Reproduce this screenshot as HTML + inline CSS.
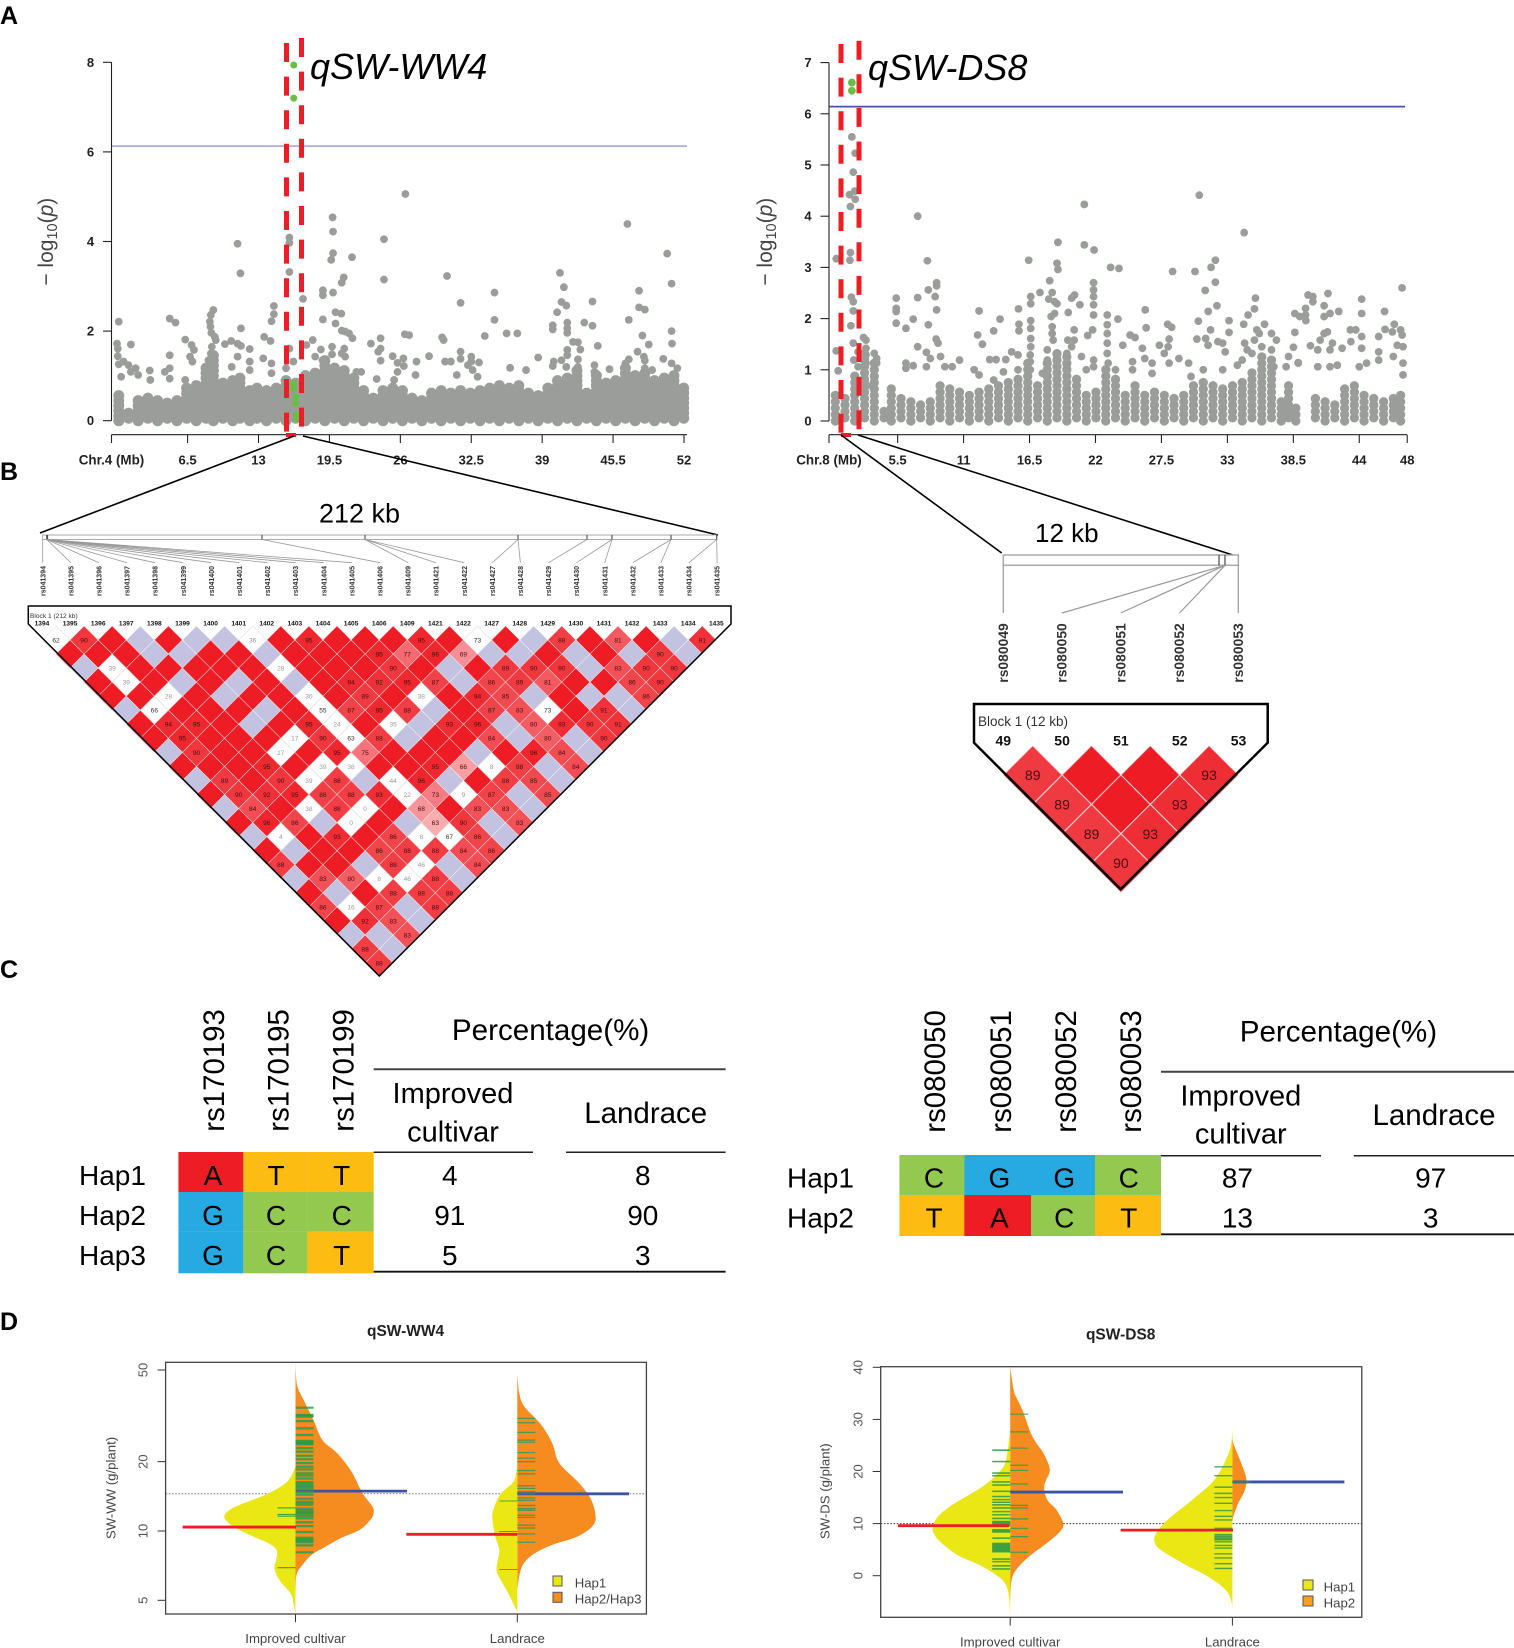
<!DOCTYPE html>
<html lang="en">
<head>
<meta charset="utf-8">
<title>GWAS, LD block, haplotype and bean plots for qSW-WW4 and qSW-DS8</title>
<style>
html,body{margin:0;padding:0;background:#fff;}
svg{display:block;font-family:"Liberation Sans",Arial,sans-serif;}
</style>
</head>
<body>
<svg id="figure" xmlns="http://www.w3.org/2000/svg" width="1514" height="1648" viewBox="0 0 1514 1648">
  <rect width="1514" height="1648" fill="#fff"/>
  <g id="manhattanLayer"></g>

  <g font-weight="bold" font-size="25" fill="#000">
    <text x="0" y="24">A</text>
    <text x="0" y="480">B</text>
    <text x="0" y="978">C</text>
    <text x="0" y="1330">D</text>
  </g>

  <text x="310" y="79" font-size="36" font-style="italic">qSW-WW4</text>
  <text x="868" y="80" font-size="36" font-style="italic">qSW-DS8</text>

  <g font-size="21" fill="#444">
    <text transform="translate(53 241.7) rotate(-90)" text-anchor="middle">− log<tspan font-size="14.5" dy="4">10</tspan><tspan dy="-4">(</tspan><tspan font-style="italic">p</tspan>)</text>
    <text transform="translate(772 241.7) rotate(-90)" text-anchor="middle">− log<tspan font-size="14.5" dy="4">10</tspan><tspan dy="-4">(</tspan><tspan font-style="italic">p</tspan>)</text>
  </g>

  <g stroke="#000" stroke-width="1.6" fill="none">
    <line x1="294" y1="436" x2="40" y2="533"/>
    <line x1="303" y1="436" x2="718" y2="535"/>
    <line x1="841" y1="435" x2="1001.7" y2="553"/>
    <line x1="858" y1="435" x2="1239" y2="557"/>
  </g>

  <text x="319" y="522.3" font-size="27">212 kb</text>
  <text x="1035" y="542" font-size="26">12 kb</text>

  <g id="geneMapLayer"></g>
  <g id="ldLayer"></g>

  <g fill="none" stroke="#000">
    <path d="M28.3 624V606H731V624L379.3 976Z" stroke-width="1.5"/>
  </g>
  <text x="30" y="618" font-size="6.6" fill="#333">Block 1 (212 kb)</text>
  <g fill="none" stroke="#000">
    <path d="M974 742.7V704H1267.7V742.7L1120.7 889.3Z" stroke-width="2.5"/>
  </g>
  <text x="978" y="726" font-size="13.5" fill="#333">Block 1 (12 kb)</text>

  <g>
    <rect x="178.4" y="1152" width="65" height="40.3" fill="#ee1c25"/>
    <rect x="243.3" y="1152" width="64.1" height="40.3" fill="#fdbc11"/>
    <rect x="307.3" y="1152" width="66.4" height="40.3" fill="#fdbc11"/>
    <rect x="178.4" y="1192" width="65" height="39.8" fill="#27aae1"/>
    <rect x="243.3" y="1192" width="64.1" height="39.8" fill="#94c950"/>
    <rect x="307.3" y="1192" width="66.4" height="39.8" fill="#94c950"/>
    <rect x="178.4" y="1231.7" width="65" height="41.6" fill="#27aae1"/>
    <rect x="243.3" y="1231.7" width="64.1" height="41.6" fill="#94c950"/>
    <rect x="307.3" y="1231.7" width="66.4" height="41.6" fill="#fdbc11"/>
    <g font-size="28" text-anchor="middle" fill="#000">
      <text x="213" y="1185">A</text>
      <text x="276" y="1185">T</text>
      <text x="341.7" y="1185">T</text>
      <text x="213" y="1225">G</text>
      <text x="276" y="1225">C</text>
      <text x="341.7" y="1225">C</text>
      <text x="213" y="1265">G</text>
      <text x="276" y="1265">C</text>
      <text x="341.7" y="1265">T</text>
      <text x="449.8" y="1185">4</text>
      <text x="642.8" y="1185">8</text>
      <text x="449.8" y="1225">91</text>
      <text x="642.8" y="1225">90</text>
      <text x="449.8" y="1265">5</text>
      <text x="642.8" y="1265">3</text>
      <text x="550.6" y="1040" font-size="29.6">Percentage(%)</text>
      <text x="453" y="1103" font-size="29">Improved</text>
      <text x="453" y="1141.7" font-size="29">cultivar</text>
      <text x="645.7" y="1123" font-size="29.5">Landrace</text>
    </g>
    <g font-size="28" fill="#000">
      <text x="79" y="1185">Hap1</text>
      <text x="79" y="1225">Hap2</text>
      <text x="79" y="1265">Hap3</text>
    </g>
    <g font-size="29.4" fill="#000">
      <text transform="translate(224 1131.7) rotate(-90)">rs170193</text>
      <text transform="translate(288.4 1131.7) rotate(-90)">rs170195</text>
      <text transform="translate(353.5 1131.7) rotate(-90)">rs170199</text>
    </g>
    <g fill="none">
      <line x1="373.7" y1="1069.3" x2="725.6" y2="1069.3" stroke="#444" stroke-width="2"/>
      <line x1="373.7" y1="1152.3" x2="533" y2="1152.3" stroke="#222" stroke-width="1.5"/>
      <line x1="566" y1="1152.3" x2="725.6" y2="1152.3" stroke="#222" stroke-width="1.5"/>
      <line x1="373.7" y1="1271.7" x2="725.6" y2="1271.7" stroke="#111" stroke-width="1.8"/>
    </g>
  </g>

  <g>
    <rect x="899.4" y="1155" width="65" height="40.3" fill="#94c950"/>
    <rect x="964.3" y="1155" width="130.7" height="40.3" fill="#27aae1"/>
    <rect x="1095" y="1155" width="66" height="40.3" fill="#94c950"/>
    <rect x="899.4" y="1195" width="65" height="41" fill="#fdbc11"/>
    <rect x="964.3" y="1195" width="67" height="41" fill="#ee1c25"/>
    <rect x="1031.2" y="1195" width="64" height="41" fill="#94c950"/>
    <rect x="1095" y="1195" width="66" height="41" fill="#fdbc11"/>
    <g font-size="28" text-anchor="middle" fill="#000">
      <text x="934" y="1187.7">C</text>
      <text x="999.4" y="1187.7">G</text>
      <text x="1064.3" y="1187.7">G</text>
      <text x="1128.8" y="1187.7">C</text>
      <text x="934" y="1227.7">T</text>
      <text x="999.4" y="1227.7">A</text>
      <text x="1064.3" y="1227.7">C</text>
      <text x="1128.8" y="1227.7">T</text>
      <text x="1237.4" y="1187.7">87</text>
      <text x="1430.7" y="1187.7">97</text>
      <text x="1237.4" y="1227.7">13</text>
      <text x="1430.7" y="1227.7">3</text>
      <text x="1338.4" y="1041.7" font-size="29.6">Percentage(%)</text>
      <text x="1240.8" y="1105.7" font-size="29">Improved</text>
      <text x="1240.8" y="1143.3" font-size="29">cultivar</text>
      <text x="1434" y="1125" font-size="29.5">Landrace</text>
    </g>
    <g font-size="28" fill="#000">
      <text x="787" y="1187.7">Hap1</text>
      <text x="787" y="1227.7">Hap2</text>
    </g>
    <g font-size="29.4" fill="#000">
      <text transform="translate(945 1132.7) rotate(-90)">rs080050</text>
      <text transform="translate(1011 1132.7) rotate(-90)">rs080051</text>
      <text transform="translate(1075.9 1132.7) rotate(-90)">rs080052</text>
      <text transform="translate(1140.8 1132.7) rotate(-90)">rs080053</text>
    </g>
    <g fill="none">
      <line x1="1161" y1="1071.7" x2="1514" y2="1071.7" stroke="#444" stroke-width="2"/>
      <line x1="1161" y1="1155.7" x2="1321" y2="1155.7" stroke="#222" stroke-width="1.5"/>
      <line x1="1353.8" y1="1155.7" x2="1514" y2="1155.7" stroke="#222" stroke-width="1.5"/>
      <line x1="1161" y1="1234.3" x2="1514" y2="1234.3" stroke="#111" stroke-width="1.8"/>
    </g>
  </g>

  <g id="beanLayer"></g>

  <g fill="#444" font-size="13.2">
    <text x="405.6" y="1336" font-size="15.5" font-weight="bold" fill="#222" text-anchor="middle">qSW-WW4</text>
    <text x="1120.7" y="1339.5" font-size="15.5" font-weight="bold" fill="#222" text-anchor="middle">qSW-DS8</text>
    <text transform="translate(115.5 1488) rotate(-90)" text-anchor="middle">SW-WW (g/plant)</text>
    <text transform="translate(829.5 1491.3) rotate(-90)" text-anchor="middle">SW-DS (g/plant)</text>
    <text x="295.5" y="1643" text-anchor="middle">Improved cultivar</text>
    <text x="517.3" y="1643" text-anchor="middle">Landrace</text>
    <text x="1010.2" y="1646.5" text-anchor="middle">Improved cultivar</text>
    <text x="1232.4" y="1646.5" text-anchor="middle">Landrace</text>
    <rect x="553" y="1576" width="9" height="10" fill="#ebe715" stroke="#555" stroke-width="1"/>
    <rect x="553" y="1592.3" width="9" height="10" fill="#f68b1f" stroke="#555" stroke-width="1"/>
    <text x="574.7" y="1587.5">Hap1</text>
    <text x="574.7" y="1603.5">Hap2/Hap3</text>
    <rect x="1303" y="1580" width="10" height="10" fill="#ebe715" stroke="#555" stroke-width="1"/>
    <rect x="1303" y="1596" width="10" height="10" fill="#fa9f1b" stroke="#555" stroke-width="1"/>
    <text x="1323.6" y="1591.5">Hap1</text>
    <text x="1323.6" y="1607.5">Hap2</text>
  </g>
</svg>

<script>
/* ---------- Manhattan data: [position Mb, -log10 p] ---------- */
const wwYTicks = [0, 2, 4, 6, 8];
const wwXTicks = [6.5, 13, 19.5, 26, 32.5, 39, 45.5, 52];
const wwThreshold = 6.13;
const wwDenseBand = [[.19,.61],[1.08,.24],[1.97,.46],[2.86,.54],[3.75,.54],[4.63,.46],[5.52,.54],[6.41,.83],[7.3,.83],[8.19,1.2],[8.86,1.5],[9.74,.91],[10.63,.91],[11.3,1.06],[12.19,.68],[12.86,.83],[13.74,.68],[14.63,.83],[15.52,.91],[16.41,.91],[17.3,1.06],[18.19,1.13],[19.08,1.35],[19.97,1.2],[20.86,1.2],[21.74,1.06],[22.63,.68],[23.52,.61],[24.41,.68],[25.3,.83],[26.19,.76],[27.08,.61],[27.97,.54],[28.86,.68],[29.74,.76],[30.63,.68],[31.52,.76],[32.41,.68],[33.3,.76],[34.19,.83],[35.08,.83],[35.97,.83],[36.86,.83],[37.74,.68],[38.63,.61],[39.52,.83],[40.41,.98],[41.3,.98],[42.19,1.2],[43.08,.68],[43.97,1.06],[44.86,.91],[45.74,.98],[46.63,1.2],[47.52,1.06],[48.41,1.13],[49.3,.91],[50.19,.98],[51.08,1.06],[51.97,.83]];
const wwSnps = [[11.08,3.95],[11.34,3.29],[15.83,4.09],[15.83,3.97],[15.83,3.32],[14.41,2.56],[14.41,2.38],[14.19,2.22],[17.08,2.72],[19.79,4.54],[19.83,4.22],[19.83,3.74],[19.66,3.59],[21.57,3.65],[20.81,3.2],[20.63,3.08],[18.9,2.91],[18.9,2.8],[19.83,2.86],[20.06,2.42],[20.59,2.39],[18.9,2.26],[20.06,2.17],[24.5,4.05],[24.5,3.15],[26.46,5.06],[30.28,3.23],[31.52,2.63],[34.63,2.86],[34.63,2.25],[40.63,3.3],[40.99,2.98],[40.77,2.65],[41.21,2.57],[40.37,2.42],[43.61,2.66],[43.61,2.12],[42.86,2.19],[46.81,4.39],[50.46,3.73],[50.86,3.06],[47.88,2.9],[47.88,2.53],[48.41,2.48],[46.94,2.25],[50.86,2],[48.19,1.9],[50.9,1.72],[48.77,1.7],[47.74,1.54],
[.19,2.21],[.03,1.72],[.1,1.61],[.1,1.44],[.19,1.26],[.63,1.32],[1.08,1.24],[1.3,1.7],[1.3,1.09],[1.74,1.17],[1.97,1.02],[.41,.98],[3.03,1.12],[3.08,.91],[4.41,1.09],[4.86,2.28],[5.39,2.19],[4.86,1.46],[4.86,1.17],[4.86,.94],[6.28,1.81],[6.86,1.69],[7.08,1.58],[6.72,1.43],[6.94,1.32],[6.28,.91],[8.86,2.47],[8.63,2.36],[8.54,2.21],[8.59,2.1],[8.68,1.96],[8.99,1.87],[9.08,1.8],[8.72,1.65],[8.63,1.5],[8.41,1.35],[8.86,1.17],[9.92,1.71],[10.5,1.78],[11.08,1.72],[11.39,1.67],[11.39,2.06],[11.08,1.43],[10.54,1.2],[12.19,1.6],[12.19,1.32],[12.19,1.13],[13.52,1.87],[14.1,1.78],[13.43,1.39],[14.19,1.28],[14.19,1.06],[15.52,1.17],[15.83,1.61],[16.19,1.32],[17.39,1.69],[17.97,1.8],[18.19,1.43],[18.72,1.59],[18.86,1.35],[19.74,1.65],[19.74,1.48],[20.86,1.61],[20.63,1.5],[20.94,1.43],[20.63,2.01],[20.94,1.99],[21.3,1.95],[21.61,1.84],[21.97,1.09],[22.41,1.09],[23.3,1.72],[23.97,1.54],[24.19,1.84],[24.19,1.61],[24.19,1.34],[23.83,.93],[25.3,1.44],[25.74,1.29],[26.28,1.39],[26.32,1.22],[25.74,1.09],[25.43,.91],[27.48,1.32],[27.39,1.02],[28.63,1.44],[26.41,1.93],[26.81,1.91],[29.83,1.86],[29.97,1.8],[30.1,1.32],[30.63,1.32],[31.52,1.54],[31.52,1.38],[31.17,1.02],[32.5,1.43],[32.5,1.32],[33.21,1.3],[32.19,1.24],[32.63,1.13],[33.08,.98],[33.74,1.89],[35.74,1.95],[36.72,1.95],[38.63,1.41],[36.06,1.18],[37.52,1.13],[39.97,2.13],[39.97,2.04],[40.06,1.32],[39.97,1.22],[40.77,1.35],[41.21,1.2],[41.3,2.19],[41.3,2.06],[41.3,1.96],[41.83,1.76],[42.28,1.75],[42.5,1.59],[41.3,1.58],[41.3,1.46],[42.28,1.37],[42.28,1.2],[44.1,1.67],[43.79,1.24],[43.79,1.09],[45.17,1.15],[46.63,1.28],[46.94,1.37],[48.32,1.43],[48.41,1.34],[48.41,1.17],[49.08,1.13],[50.1,1.38],[50.86,1.28],[51.39,1.17]];
const wwLeadSnps = [[16.23,7.94],[16.23,7.2],[16.2,.83],[16.2,.72],[16.4,.54],[16.4,.39],[16.5,.13],[16.5,.05]];

const dsYTicks = [0, 1, 2, 3, 4, 5, 6, 7];
const dsXTicks = [5.5, 11, 16.5, 22, 27.5, 33, 38.5, 44, 48];
const dsThreshold = 6.14;
const dsDenseBand = [[.3,.54],[1.11,.54],[1.92,.93],[2.74,1.39],[3.55,1.19],[4.36,.28],[4.97,.73],[5.78,.47],[6.6,.41],[7.41,.41],[8.22,.47],[9.04,.73],[9.85,.73],[10.66,.6],[11.48,.6],[12.29,.6],[13.1,.73],[13.91,.73],[14.73,.87],[15.54,.93],[16.35,1.19],[17.17,.8],[17.98,1.13],[18.79,1.39],[19.61,1.32],[20.42,.87],[21.23,.6],[22.04,.6],[22.86,1.06],[23.67,.87],[24.48,.6],[25.3,.73],[26.11,.54],[26.92,.6],[27.74,.6],[28.55,.47],[29.36,.54],[30.17,.73],[30.99,.87],[31.8,.73],[32.61,.73],[33.43,.73],[34.24,.87],[35.05,1.06],[35.87,1.32],[36.68,1.19],[37.49,.41],[38.1,.73],[38.71,.28],[40.34,.47],[41.15,.41],[41.96,.41],[42.78,.67],[43.59,.8],[44.4,.6],[45.21,.47],[46.03,.41],[46.84,.47],[47.45,.6]];
const dsSnps = [[1.68,5.55],[1.96,5.23],[1.8,4.86],[1.48,4.42],[1.92,4.49],[1.96,4.33],[1.56,4.19],[7.17,4],[1.56,3.29],[.38,3.17],[1.52,3.14],[7.98,3.13],[21.07,4.23],[21.07,3.44],[21.88,3.34],[18.87,3.49],[16.43,3.14],[18.79,3.08],[18.87,2.96],[23.26,3],[23.96,2.98],[28.43,2.92],[30.3,2.92],[30.66,4.41],[31.64,3],[32,3.14],[32,2.71],[31.15,2.55],[32.13,2.25],[31.4,2.14],[34.4,3.68],[30.58,1.95],[33.14,1.96],[33.14,1.73],[35.34,2.4],[35.26,2.19],[34.73,2.07],[34.36,1.89],[36.1,1.89],[47.57,2.6],
[5.38,2.4],[5.38,2.2],[5.38,2.14],[5.38,1.91],[6.19,1.81],[6.8,1.99],[7.17,2.41],[8.06,2.56],[8.63,2.43],[8.75,2.7],[8.75,2.64],[8.75,2.17],[8.06,1.88],[8.71,1.6],[8.87,1.52],[7.17,1.45],[7.9,1.34],[8.22,1.22],[9.08,1.26],[6.19,1.13],[6.19,1.03],[6.8,1.08],[7.9,1.06],[10.66,1.19],[10.05,1.06],[12.29,2.15],[14.04,1.99],[12.17,1.68],[13.51,1.76],[12.57,1.5],[13.18,1.2],[13.71,1.2],[14.52,1.2],[15.01,1.35],[15.58,2.19],[15.62,1.89],[15.62,1.76],[15.54,1.29],[16.6,2.43],[16.6,2.29],[16.6,1.96],[16.6,1.81],[16.6,1.61],[16.6,1.45],[17.37,2.51],[18.18,2.74],[18.39,2.51],[18.1,2.38],[18.59,2.33],[18.79,2.29],[18.59,2.1],[18.3,2.04],[19.73,2.12],[20.01,2.4],[20.26,2.46],[20.7,2.27],[20.22,1.78],[18.39,1.84],[18.39,1.71],[18.47,1.58],[19.69,1.58],[20.22,1.58],[21.35,1.67],[21.76,1.78],[21.84,2.27],[21.84,2.07],[21.84,2.43],[21.84,2.56],[21.84,2.7],[22.98,2.07],[22.98,1.88],[23.87,1.99],[22.98,1.71],[22.98,1.52],[22.98,1.32],[24.28,1.48],[24.89,1.68],[25.3,1.63],[25.91,1.42],[26.15,2.17],[26.23,1.82],[28.02,1.89],[28.35,1.83],[28.14,1.6],[27.33,1.48],[28.06,1.45],[28.96,1.22],[29.77,1.13],[30.46,1.6],[31.19,1.61],[31.6,1.78],[31.39,1.48],[32.21,1.55],[32.61,1.52],[32.82,1.35],[34.44,1.52],[34.65,1.39],[35.46,1.78],[35.26,1.58],[35.66,1.71],[36.68,1.71],[37.09,1.58],[36.68,1.39],[38.63,1.73],[39.52,2.2],[39.52,2.07],[38.63,2.1],[39.04,2.04],[39.55,1.96],[38.51,1.44],[38.1,1.26],[38.91,1.14],[39.93,1.47],[40.54,1.39],[41.07,2.25],[41.39,2.49],[39.73,2.46],[40.13,2.43],[40.13,2.33],[41.56,2.1],[41.07,2.04],[42.29,2.14],[41.07,1.71],[41.35,1.74],[41.76,1.52],[40.74,1.58],[41.56,1.39],[42.57,1.42],[43.26,1.78],[43.71,1.78],[43.3,1.55],[44.2,2.38],[44.2,2.1],[44.2,1.65],[44.2,1.42],[46.11,2.14],[46.92,1.89],[46.15,1.79],[46.76,1.74],[47.57,1.68],[47.45,1.78],[45.62,1.65],[45.62,1.35],[47.17,1.48],[47.65,1.45],[47.65,1.13],
[.38,1.37],[.54,.98],[1.64,2.42],[1.8,2.33],[1.8,2.15],[1.6,1.86],[1.8,1.52],[2.2,1.35],[1.84,1.19],[2.2,1.06],[2.65,1.63],[2.86,1.58],[2.86,1.42],[2.86,1.29],[2.86,1.13],[3.55,1.32],[3.75,1.22],[3.75,1.13],[3.55,1],[3.55,.83],[2.94,.69],
[9.44,1.06],[11.88,1],[12.29,.9],[13.51,.8],[14.32,.96],[15.54,1],[16.56,1.29],[16.56,1.16],[16.56,1],[17.57,.93],[17.98,1.39],[17.98,1.19],[18.79,1.26],[19.61,1.32],[19.61,1.06],[20.01,1.45],[20.83,1.26],[21.23,1],[21.84,1.19],[21.84,1.06],[23.06,1.13],[23.67,1],[25.09,1.16],[25.09,1],[26.11,1.22],[26.72,1.13],[26.72,.93],[27.74,1.32],[28.14,1.13],[29.97,.87],[30.99,1],[32.61,1],[33.83,1.09],[34.24,1.19],[35.05,1.32],[35.87,1.45],[36.88,1.06],[37.9,1.06],[38.91,1.13],[40.54,1.06],[41.56,1.06],[42.17,1.09],[44,1.06],[44.61,1.13],[45.62,1.19],[46.84,1.26],[47.65,.9]];
const dsLeadSnps = [[1.68,6.61],[1.68,6.45]];

/* ---------- LD heatmap data: R solid, B lavender, w white with value ---------- */
const wwLdSnps = ["1394","1395","1396","1397","1398","1399","1400","1401","1402","1403","1404","1405","1406","1409","1421","1422","1427","1428","1429","1430","1431","1432","1433","1434","1435"];
const wwLdRows = [
"62w 90 R B R B B 36w R 95 R R R 95 R 73w R B 88 R 81 R B 91",
"R R R B B R R B R R R 95 77 96 69 B B R B R B 90 B",
"B 39w R R R R R 28w R R R 90 R B R 89 90 90 B 83 90 90",
"R 39w R B R B R B R 94 92 95 87 B 86 89 81 R R 86 90",
"R R 28w R B R R 30w R 89 R 38w R 94 85 B R B B 86",
"B 66w R R R B R 55w 87 95 88 B R 87 83 73w R 91 B",
"R 94 95 R B R 95 24w R 35w B 93 96 B 80 93 90 91",
"R 95 R R R 17w 90 63w 88 B R R 84 B 80 B 90",
"B 90 R R 17w R 95 75 R R R B R 96 84 B",
"R R R 95 R 39w 38w R R 95 66 8w 88 B 84",
"B 89 R 90 39w 88 B 44w 96 B R 88 85 B",
"R 90 92 95 88 88 93 22w 73 9w 87 B 85",
"B 84 R 38w 88 0w R 68 R 83 83 B",
"R 96 86 B 0w R B 63 90 B 83",
"B 4w R 93 R 86 8w 67w 86 B",
"R B R R 86 88 88 84 86",
"88 R R B 88 46w B 84",
"B 83 80 8w 46w 88 B",
"R B R 88 88 88",
"86 16w 87 B 88",
"R 92 83 B",
"B B 83",
"88 B",
"88"];
const dsLdSnps = ["49","50","51","52","53"];
const dsLdRows = ["89 R R 93","89 R 93","89 93","90"];

const wwMapSnps = ["rs041394","rs041395","rs041396","rs041397","rs041398","rs041399","rs041400","rs041401","rs041402","rs041403","rs041404","rs041405","rs041406","rs041409","rs041421","rs041422","rs041427","rs041428","rs041429","rs041430","rs041431","rs041432","rs041433","rs041434","rs041435"];
const dsMapSnps = ["rs080049","rs080050","rs080051","rs080052","rs080053"];

/* ---------- Bean plot data: g/plant and density ---------- */
const wwYLabels = [5, 10, 20, 50];
const wwRefLine = 14.5;
const wwImpHap2Vals = [54,46,41.6,36.4,30.3,24.8,21.7,18.1,14.6,12.75,11.9,11.2,10.1,9.3,8.4,7.87,7.12,6.44,5.19];
const wwImpHap2Dens = [0,.7,2.5,9,18,27,42,56,67,77,78,75,64,45,27,16,7,1,0];
const wwImpHap1Vals = [19,16.6,15.1,13.9,12.75,11.9,11.2,10.3,9.45,8.84,8.27,7.6,6.89,6.12,5.36,4.85,4.39];
const wwImpHap1Dens = [0,7,20,38,60,70,70,60,42,27,19,19,21,16,5,2,0];
const wwLanHap2Vals = [48,39.6,34.7,28.9,24,19.7,16.1,13.9,11.9,10.6,9.45,8.7,7.87,6.89,5.54];
const wwLanHap2Dens = [0,2,7,24,35,42,62,73,78,76,60,35,15,4,0];
const wwLanHap1Vals = [20.3,16.6,14.6,12.75,11.35,9.45,8.27,7.24,6.55,5.36,4.46];
const wwLanHap1Dens = [0,3,16,23,25,22,18,20,20,9,0];
const wwImpHap2Rug = [34.3,31.9,31.6,31.4,30,27.9,26.1,24.6,24.4,24.2,24,23.8,22.9,22.1,21.2,20.5,19.7,19,18.5,17.8,17.4,16.9,16.3,16,15.7,15.5,15.3,14.8,14.4,13.8,13.4,13.2,13,12.5,12.3,12.1,12,11.85,11.6,11.35,10.9,10.5,9.9,9.35,9.25,9.14,9.05,8.93,8.66,8.08];
const wwImpHap1Rug = [12.6,11.8,11.6,10.4,6.93];
const wwLanHap2Rug = [30.8,29.5,26.8,24.8,24.3,21.9,20.7,20,18.3,17.7,15.7,15.3,14.8,14.5,13.9,13.6,12.9,12.5,12.3,11.7,11.45,10.6,10.3,9.7,8.93];
const wwLanHap1Rug = [13.5,9.95,6.8];
const wwMeans = {impHap1:10.4, impHap2:14.9, lanHap1:9.67, lanHap2:14.5};

const dsYLabels = [0, 10, 20, 30, 40];
const dsRefLine = 10;
const dsImpHap2Vals = [40.2,38,35,31.9,26.8,23.6,21,19.7,17.2,14.6,12.7,10.1,8.5,6.3,3.7,1.15,-.77,-4.6];
const dsImpHap2Dens = [0,1.5,4.4,12,22,33,39,39,34,37,46,53,50,37,19,6,1.5,0];
const dsImpHap1Vals = [28,23.6,21,18.4,16.2,13.6,11.4,9.1,6.9,4,1.8,-.45,-2.4,-5.2,-7.8];
const dsImpHap1Dens = [0,2.9,6.5,19,35,58,72,77.5,72,53,28,10,2.9,.7,0];
const dsLanHap2Vals = [27.3,25.4,22.2,18.7,16.2,13.9,11.4,10.1];
const dsLanHap2Dens = [0,1,7.6,13.8,12,5.8,1,0];
const dsLanHap1Vals = [30.2,26,22.9,18.4,14.6,10.7,8.2,6.6,5,2.1,-.1,-2.7,-5.2,-8.1];
const dsLanHap1Dens = [0,.7,5,18,40,65,76,78,72,47,25,7,.7,0];
const dsImpHap2Rug = [31,27.6,24.5,21.2,20.2,17.6,13.5,13,10.9,9.1,7.5,4.5];
const dsImpHap1Rug = [24.1,21.9,19.7,19.2,18,17.4,16.2,15.2,14.6,14.1,13.6,13,12.3,11.7,11,10.4,10.2,10,9.8,9.6,8.8,8.6,8.4,7.2,6.2,6,5.8,5.6,5.4,5.2,5,4.8,4.6,3.2,2.7,1.9,1.3];
const dsLanHap2Rug = [18];
const dsLanHap1Rug = [20.9,19.2,17,15.8,15,13.9,12.5,11.4,10.7,9.1,8.8,7.9,7.6,7.4,7.1,6.9,6.5,5.8,5.3,4.2,3.4,2.3,1.4];
const dsMeans = {impHap1:9.6, impHap2:16.05, lanHap1:8.75, lanHap2:18};

/* ---------- helpers ---------- */
const SVGNS = "http://www.w3.org/2000/svg";
function node(tag, attrs, parent, txt){
  const n = document.createElementNS(SVGNS, tag);
  for (const k in attrs) n.setAttribute(k, attrs[k]);
  if (txt !== undefined) n.textContent = txt;
  parent.appendChild(n);
  return n;
}
const wwX = mb => 187.6 + (mb - 6.5) * 10.91;
const wwY = v => 420.7 - 44.8 * v;
const dsX = mb => 831.7 + mb * 11.99;
const dsY = v => 421 - 51.2 * v;
const GRAY = "#9b9d9b";

/* ---------- Manhattan plots ---------- */
function drawManhattan(root, o){
  const g = node("g", {}, root);
  
  
  o.band.forEach((b, i) => {
    const el = node("line", {x1:o.x(b[0]), x2:o.x(b[0]), y1:o.y(0), y2:o.y(b[1]), stroke:GRAY, "stroke-width":o.bandWidth, "stroke-linecap":"round", "stroke-dasharray":"0.01 "+o.bandPitch, "stroke-dashoffset":(i % 2) * o.bandPitch / 2}, g);
    
    
  });
  o.snps.forEach(p => {
    const el = node("circle", {cx:o.x(p[0]), cy:o.y(p[1]), r:3.9, fill:GRAY}, g);
    
    
  });
  const th = node("line", {x1:o.x0, x2:o.thEnd, y1:o.y(o.threshold), y2:o.y(o.threshold), stroke:o.thColor, "stroke-width":1.7}, g);
  
  
  o.lead.forEach(p => {
    const el = node("circle", {cx:o.x(p[0]), cy:o.y(p[1]), r:o.leadR, fill:"#69bd45"}, g);
    
    
  });
  const ya = node("line", {x1:o.x0, x2:o.x0, y1:o.y(o.yTicks[0]), y2:o.y(o.yTicks[o.yTicks.length-1]), stroke:"#222", "stroke-width":1.1}, g);
  
  
  o.yTicks.forEach(t => {
    const tk = node("line", {x1:o.x0-8.5, x2:o.x0, y1:o.y(t), y2:o.y(t), stroke:"#222", "stroke-width":1.1}, g);
    
    
    const lb = node("text", {x:o.x0-21, y:o.y(t)+4.5, "font-size":13, "font-weight":"bold", "text-anchor":"middle", fill:"#222"}, g, String(t));
    
    
  });
  const xa = node("line", {x1:o.x0, x2:o.xEnd, y1:434.7, y2:434.7, stroke:"#222", "stroke-width":1.1}, g);
  
  
  const first = node("line", {x1:o.x0, x2:o.x0, y1:434.7, y2:443, stroke:"#222", "stroke-width":1.1}, g);
  
  
  const chr = node("text", {x:o.x0, y:464.5, "font-size":13.4, "font-weight":"bold", "text-anchor":"middle", fill:"#222"}, g, o.chr);
  
  
  o.xTicks.forEach(t => {
    const tk = node("line", {x1:o.x(t), x2:o.x(t), y1:434.7, y2:443, stroke:"#222", "stroke-width":1.1}, g);
    
    
    const lb = node("text", {x:o.x(t), y:464.5, "font-size":13, "font-weight":"bold", "text-anchor":"middle", fill:"#222"}, g, String(t));
    
    
  });
  o.dashes.forEach(d => {
    const el = node("line", {x1:d[0], x2:d[0], y1:d[1], y2:d[2], stroke:"#ee1c25", "stroke-width":5, "stroke-dasharray":"19 14.6"}, g);
    
    
  });
  const blob = node("rect", {x:o.blob, y:433, width:10, height:4, fill:"#ee1c25"}, g);
  
  
}
const mLayer = document.getElementById("manhattanLayer");
drawManhattan(mLayer, {name:"manhattan-qsw-ww4", x:wwX, y:wwY, x0:111.5, xEnd:687, thEnd:687, thColor:"#a2a8d9",
  band:wwDenseBand, bandWidth:11, bandPitch:5, snps:wwSnps, lead:wwLeadSnps, leadR:3.5, threshold:wwThreshold,
  yTicks:wwYTicks, xTicks:wwXTicks, chr:"Chr.4 (Mb)", dashes:[[286.5,43,435],[301.5,38,428]], blob:286});
drawManhattan(mLayer, {name:"manhattan-qsw-ds8", x:dsX, y:dsY, x0:829, xEnd:1407, thEnd:1405, thColor:"#4a52a8",
  band:dsDenseBand, bandWidth:9.3, bandPitch:6.4, snps:dsSnps, lead:dsLeadSnps, leadR:3.9, threshold:dsThreshold,
  yTicks:dsYTicks, xTicks:dsXTicks, chr:"Chr.8 (Mb)", dashes:[[841,44,435],[859,40.7,430]], blob:841});

/* ---------- gene maps ---------- */
function drawMap(root, o){
  const g = node("g", {}, root);
  
  
  const bar = node("rect", {x:o.x1, y:o.y1, width:o.x2-o.x1, height:o.y2-o.y1, fill:"#fff", stroke:"#aaa", "stroke-width":o.sw}, g);
  
  
  o.ticks.forEach(t => {
    const el = node("line", {x1:t, x2:t, y1:o.y1, y2:o.y2, stroke:"#555", "stroke-width":o.tw}, g);
    
    
  });
  o.names.forEach((nm, i) => {
    const lx = o.lx0 + o.lstep(i);
    const c = node("line", {x1:o.src[i], y1:o.y2, x2:lx, y2:o.ly, stroke:"#999", "stroke-width":o.cw}, g);
    
    
    const t = node("text", {transform:"translate("+(lx+o.tdx)+" "+o.ty+") rotate(-90)", "font-size":o.fs, "font-weight":"bold", fill:"#333"}, g, nm);
    
    
  });
}
const gLayer = document.getElementById("geneMapLayer");
drawMap(gLayer, {name:"gene-map-ww", x1:42.7, x2:716.7, y1:535, y2:539.5, sw:1, tw:1.2, cw:.8,
  ticks:[46.7,47.5,262,365,518,587,612,671,716.7], names:wwMapSnps,
  src:[42.7,46.7,46.7,46.7,46.7,46.7,46.7,46.7,46.7,46.7,46.7,46.7,262,365,365,365,518,518,587,612,612,671,671,716.7,716.7],
  lx0:42.7, lstep:i=>i*28.1, ly:562.7, tdx:2.6, ty:596, fs:7});
drawMap(gLayer, {name:"gene-map-ds", x1:1003.3, x2:1238.3, y1:555, y2:565.3, sw:1.5, tw:1.3, cw:1.2,
  ticks:[1219,1225], names:dsMapSnps, src:[1003.3,1225,1225,1225,1238.3],
  lx0:1003.3, lstep:i=>i*58.75, ly:613, tdx:4.5, ty:682.7, fs:13.9});

/* ---------- LD heatmaps ---------- */
function ldColor(tok){
  if (tok === "R") return "#ee1c25";
  if (tok === "B") return "#c3c2e0";
  if (tok.endsWith("w")) return "#ffffff";
  const v = parseFloat(tok);
  const f = Math.pow(Math.max(0, (100 - v) / 37), 1.3) * 0.64;
  const mix = (a) => Math.round(a + (255 - a) * f);
  return "rgb(" + mix(238) + "," + mix(28) + "," + mix(37) + ")";
}
function drawLD(root, o){
  const g = node("g", {}, root);
  
  
  o.snps.forEach((s, i) => {
    const t = node("text", {x:o.x0 - o.h + i * 2 * o.h, y:o.headY, "font-size":o.headFs, "font-weight":"bold", "text-anchor":"middle", fill:"#111"}, g, s);
    
    
  });
  o.rows.forEach((row, r) => {
    row.split(" ").forEach((tok, c) => {
      const cx = o.x0 + (c * 2 + r) * o.h, cy = o.y0 + r * o.h, h = o.h;
      const white = tok.endsWith("w");
      const d = node("polygon", {points:[cx,cy-h,cx+h,cy,cx,cy+h,cx-h,cy].join(","), fill:ldColor(tok), stroke:white ? "#ddd" : "#fff", "stroke-opacity":white ? 1 : .6, "stroke-width":o.sw}, g);
      
      
      if (tok !== "R" && tok !== "B"){
        const v = parseFloat(tok);
        const col = white ? (v < 50 ? "#999" : "#333") : "#4a0c10";
        const t = node("text", {x:cx, y:cy + o.fs * .36, "font-size":o.fs, "text-anchor":"middle", fill:col}, g, String(v));
        
        
      }
    });
  });
}
const lLayer = document.getElementById("ldLayer");
drawLD(lLayer, {name:"ld-heatmap-ww", snps:wwLdSnps, rows:wwLdRows, x0:56, y0:640, h:14.05, sw:.6, fs:6.6, headFs:6.6, headY:625.7});
drawLD(lLayer, {name:"ld-heatmap-ds", snps:dsLdSnps, rows:dsLdRows, x0:1032.7, y0:775, h:29.4, sw:1.2, fs:14, headFs:14, headY:745.7});

/* ---------- Bean plots ---------- */
const bwwY = v => 1600.3 - 230.3 * Math.log10(v / 5);
const bdsY = v => 1575.7 - 5.21 * v;
function drawBean(g, cx, side, vals, dens, yFn, color, name){
  const pts = vals.map((v, i) => [cx + side * dens[i], yFn(v)]);
  let d = "M" + pts[0][0] + " " + pts[0][1];
  for (let i = 0; i < pts.length - 1; i++){
    const p0 = pts[Math.max(0, i - 1)], p1 = pts[i], p2 = pts[i + 1], p3 = pts[Math.min(pts.length - 1, i + 2)];
    const c1x = p1[0] + (p2[0] - p0[0]) / 6, c1y = p1[1] + (p2[1] - p0[1]) / 6;
    const c2x = p2[0] - (p3[0] - p1[0]) / 6, c2y = p2[1] - (p3[1] - p1[1]) / 6;
    d += "C" + c1x + " " + c1y + " " + c2x + " " + c2y + " " + p2[0] + " " + p2[1];
  }
  d += "L" + cx + " " + yFn(vals[vals.length - 1]) + "L" + cx + " " + yFn(vals[0]) + "Z";
  const el = node("path", {d:d, fill:color}, g);
  
  
}
function drawRug(g, cx, side, vals, yFn, w){
  vals.forEach(v => {
    const el = node("line", {x1:cx, x2:cx + side * 18, y1:yFn(v), y2:yFn(v), stroke:"#2e9b48", "stroke-width":w, "stroke-opacity":.85}, g);
    
    
  });
}
function drawMean(g, x1, x2, v, yFn, color, name){
  const el = node("line", {x1:x1, x2:x2, y1:yFn(v), y2:yFn(v), stroke:color, "stroke-width":2.8}, g);
  
  
}
function drawBeanAxes(g, o){
  const ref = node("line", {x1:o.l, x2:o.r, y1:o.y(o.refV), y2:o.y(o.refV), stroke:o.refColor, "stroke-width":1, "stroke-dasharray":"1.6 1.6"}, g);
  
  
  o.yLabels.forEach(t => {
    const tk = node("line", {x1:o.l-8, x2:o.l, y1:o.y(t), y2:o.y(t), stroke:"#333", "stroke-width":1}, g);
    
    
    const lb = node("text", {transform:"translate("+(o.l-18)+" "+o.y(t)+") rotate(-90)", "font-size":13, fill:"#555", "text-anchor":"middle"}, g, String(t));
    
    
  });
  o.xs.forEach(x => {
    const tk = node("line", {x1:x, x2:x, y1:o.b, y2:o.b + 8.3, stroke:"#333", "stroke-width":1}, g);
    
    
  });
}
function drawFrame(g, l, t, r, b){
  const el = node("rect", {x:l, y:t, width:r-l, height:b-t, fill:"none", stroke:"#444", "stroke-width":1.3}, g);
  
  
}
const bLayer = document.getElementById("beanLayer");
const bww = node("g", {}, bLayer);


const bds = node("g", {}, bLayer);



drawBeanAxes(bww, {l:165.6, r:646.4, b:1614, y:bwwY, refV:wwRefLine, refColor:"#777", yLabels:wwYLabels, xs:[295.5,517.3]});
drawBean(bww, 295.5, 1, wwImpHap2Vals, wwImpHap2Dens, bwwY, "#f68b1f", "bean-improved-hap2");
drawBean(bww, 295.5, -1, wwImpHap1Vals, wwImpHap1Dens, bwwY, "#ebe715", "bean-improved-hap1");
drawBean(bww, 517.3, 1, wwLanHap2Vals, wwLanHap2Dens, bwwY, "#f68b1f", "bean-landrace-hap2");
drawBean(bww, 517.3, -1, wwLanHap1Vals, wwLanHap1Dens, bwwY, "#ebe715", "bean-landrace-hap1");
drawMean(bww, 295.5, 407, wwMeans.impHap2, bwwY, "#3b53a4", "mean-improved-hap2");
drawMean(bww, 517.3, 629, wwMeans.lanHap2, bwwY, "#3b53a4", "mean-landrace-hap2");
drawRug(bww, 295.5, 1, wwImpHap2Rug, bwwY, 2.2);
drawRug(bww, 295.5, -1, wwImpHap1Rug, bwwY, 1.2);
drawRug(bww, 517.3, 1, wwLanHap2Rug, bwwY, 1.2);
drawRug(bww, 517.3, -1, wwLanHap1Rug, bwwY, 1);
drawMean(bww, 182.7, 296, wwMeans.impHap1, bwwY, "#ee1c25", "mean-improved-hap1");
drawMean(bww, 406.4, 517.3, wwMeans.lanHap1, bwwY, "#ee1c25", "mean-landrace-hap1");
drawFrame(bww, 165.6, 1362.3, 646.4, 1614);

drawBeanAxes(bds, {l:880.7, r:1361.8, b:1617.3, y:bdsY, refV:dsRefLine, refColor:"#333", yLabels:dsYLabels, xs:[1010.2,1232.4]});
drawBean(bds, 1010.2, 1, dsImpHap2Vals, dsImpHap2Dens, bdsY, "#f68b1f", "bean-improved-hap2");
drawBean(bds, 1010.2, -1, dsImpHap1Vals, dsImpHap1Dens, bdsY, "#ebe715", "bean-improved-hap1");
drawBean(bds, 1232.4, 1, dsLanHap2Vals, dsLanHap2Dens, bdsY, "#f68b1f", "bean-landrace-hap2");
drawBean(bds, 1232.4, -1, dsLanHap1Vals, dsLanHap1Dens, bdsY, "#ebe715", "bean-landrace-hap1");
drawMean(bds, 1010.2, 1123, dsMeans.impHap2, bdsY, "#3b53a4", "mean-improved-hap2");
drawMean(bds, 1232.4, 1344.4, dsMeans.lanHap2, bdsY, "#3b53a4", "mean-landrace-hap2");
drawRug(bds, 1010.2, 1, dsImpHap2Rug, bdsY, 1.2);
drawRug(bds, 1010.2, -1, dsImpHap1Rug, bdsY, 1.6);
drawRug(bds, 1232.4, 1, dsLanHap2Rug, bdsY, 1.4);
drawRug(bds, 1232.4, -1, dsLanHap1Rug, bdsY, 1.4);
drawMean(bds, 898, 1009, dsMeans.impHap1, bdsY, "#ee1c25", "mean-improved-hap1");
drawMean(bds, 1120.7, 1233, dsMeans.lanHap1, bdsY, "#ee1c25", "mean-landrace-hap1");
drawFrame(bds, 880.7, 1366.7, 1361.8, 1617.3);
</script>
</body>
</html>
